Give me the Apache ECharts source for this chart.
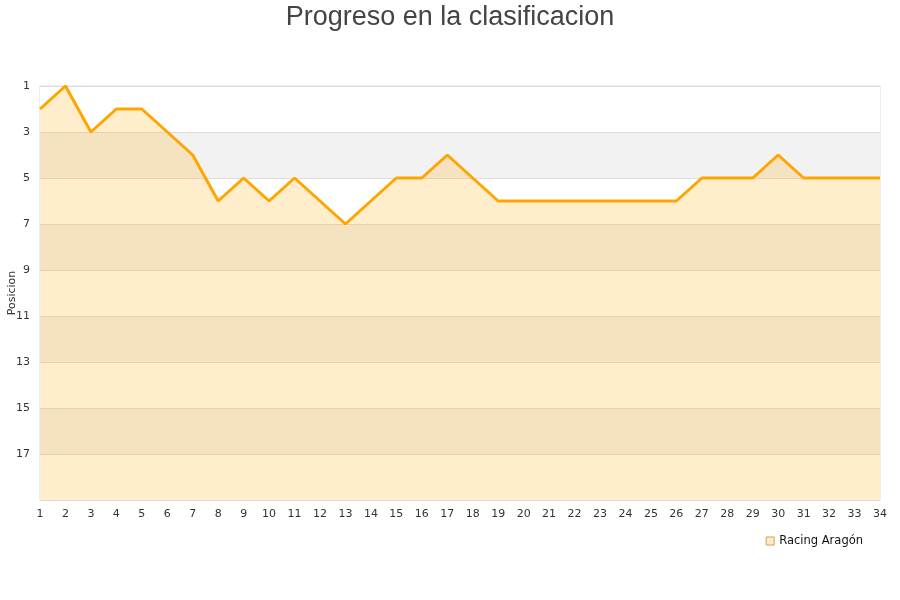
<!DOCTYPE html>
<html><head><meta charset="utf-8">
<script src="https://cdn.jsdelivr.net/npm/echarts@6/dist/echarts.min.js"></script>
<style>html,body{margin:0;padding:0;background:#fff}#c{width:900px;height:600px}</style>
</head><body><div id="c"></div>
<script>
const jornadas = ['1','2','3','4','5','6','7','8','9','10','11','12','13','14','15','16','17','18','19','20','21','22','23','24','25','26','27','28','29','30','31','32','33','34'];
const posiciones = [2,1,3,2,2,3,4,6,5,6,5,6,7,6,5,5,4,5,6,6,6,6,6,6,6,6,5,5,5,4,5,5,5,5];
const teamName = 'Racing Aragón';
const chartTitle = 'Progreso en la clasificacion';
const yAxisName = 'Posicion';

const chart = echarts.init(document.getElementById('c'));
chart.setOption({
  animation: false,
  title: { text: chartTitle, left: 'center', top: -1,
    textStyle: { fontFamily: 'Liberation Sans', fontSize: 27, fontWeight: 'normal', color: '#444' } },
  grid: { left: 40, right: 20, top: 86, bottom: 100, containLabel: false, outerBoundsMode: 'none',
    show: true, borderColor: '#ddd', borderWidth: 1, backgroundColor: 'transparent' },
  legend: { right: 32, top: 530, icon: 'rect', itemWidth: 8, itemHeight: 8, itemGap: 10,
    textStyle: { fontFamily: 'DejaVu Sans', fontSize: 11.5, color: '#111' },
    data: [{ name: teamName, itemStyle: { color: '#fdeccb', borderColor: '#d9a04a', borderWidth: 1 } }] },
  xAxis: { type: 'category', data: jornadas, boundaryGap: false,
    axisLine: { lineStyle: { color: '#ddd' } }, axisTick: { show: false },
    axisLabel: { fontFamily: 'DejaVu Sans', fontSize: 11, color: '#333', margin: 9, interval: 0 },
    splitLine: { show: false } },
  yAxis: { type: 'value', inverse: true, min: 1, max: 19, interval: 2,
    name: yAxisName, nameLocation: 'middle', nameGap: 22, nameRotate: 90, nameMoveOverlap: false,
    nameTextStyle: { fontFamily: 'DejaVu Sans', fontSize: 11, color: '#333' },
    axisLine: { show: false }, axisTick: { show: false },
    axisLabel: { fontFamily: 'DejaVu Sans', fontSize: 11, color: '#333', margin: 10,
      formatter: v => v === 19 ? '' : String(v) },
    splitLine: { show: true, lineStyle: { color: '#ddd', width: 1 } },
    splitArea: { show: true, areaStyle: { color: ['#ffffff', '#f2f2f2'], opacity: 1 } } },
  series: [{
    name: teamName, type: 'line', data: posiciones, showSymbol: false, symbol: 'none',
    lineStyle: { color: '#FFA500', width: 3 },
    itemStyle: { color: '#FFA500' },
    areaStyle: { color: 'rgba(255,165,0,0.2)', opacity: 1, origin: 'end' }
  }]
});
</script></body></html>
